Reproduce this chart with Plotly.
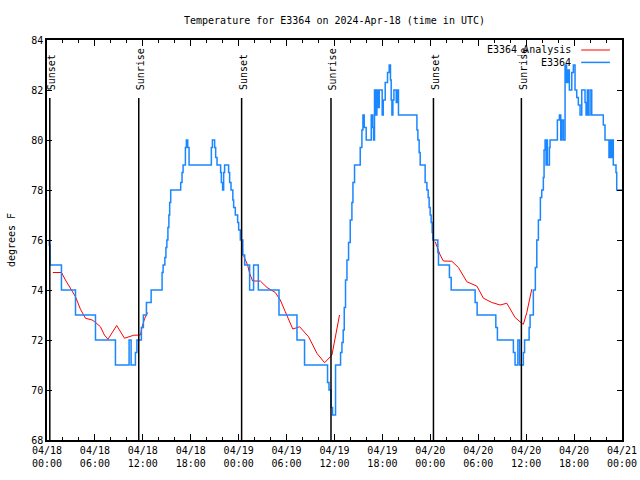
import pandas as pd
import plotly.graph_objects as go

START = "2024-04-18 00:00"

# Observed station temperatures (hours since START, degrees F)
blue_hours = [0.23, 0.29, 0.38, 1.81, 3.57, 6.07, 8.57, 10.28, 10.53, 11.07, 11.26, 11.82, 12.07, 12.45,
              13.04, 14.41, 14.54, 14.76, 14.89, 15.01, 15.14, 15.26, 15.36, 15.49, 16.74, 16.91, 17.04,
              17.33, 17.45, 17.62, 17.79, 20.58, 20.71, 20.99, 21.12, 21.29, 21.74, 21.83, 21.99, 22.12,
              22.24, 22.74, 22.87, 23.04, 23.27, 23.37, 23.58, 23.87, 24.00, 24.21, 24.52, 24.75, 25.37,
              25.87, 26.46, 29.05, 31.30, 32.25, 35.13, 35.31, 35.56, 35.76, 36.13, 36.76, 36.93, 37.09,
              37.22, 37.38, 37.56, 37.76, 37.97, 38.18, 38.31, 38.51, 39.22, 39.43, 39.56, 39.72, 39.97,
              40.60, 40.79, 40.89, 41.01, 41.14, 41.31, 41.47, 41.60, 41.97, 42.10, 42.35, 42.64, 42.85,
              43.01, 43.10, 43.19, 43.31, 43.44, 43.73, 43.89, 44.01, 46.32, 46.44, 46.60, 46.73, 47.35,
              47.57, 47.73, 47.85, 47.98, 48.10, 48.23, 48.32, 48.94, 49.02, 50.39, 50.61, 53.61, 53.86,
              56.20, 56.40, 58.40, 58.61, 58.96, 59.18, 59.65, 59.80, 60.37, 60.49, 60.90, 61.15, 61.33,
              61.53, 61.78, 61.95, 62.15, 62.24, 62.37, 62.49, 62.58, 62.66, 62.91, 62.99, 63.91, 64.16,
              64.33, 64.46, 64.66, 64.87, 65.06, 65.25, 65.41, 65.71, 65.91, 66.12, 66.33, 66.53, 66.75,
              66.96, 67.37, 67.50, 67.66, 67.78, 68.00, 68.21, 69.66, 69.87, 70.37, 70.50, 70.62, 70.75,
              70.91, 71.25, 71.34, 72.0]
blue_temps = [76, 75.8, 75, 74, 73, 72, 71, 72, 71, 71.5, 72, 72.5, 73, 73.5,
              74, 74.7, 75, 75.3, 75.7, 76, 76.5, 77, 77.5, 78, 78.3, 78.7, 79,
              79.7, 80, 79.7, 79, 79.7, 80, 79.7, 79.3, 79, 78.7, 78.3, 78, 78.7,
              79, 78.7, 78.3, 78, 77.6, 77.3, 77, 76.7, 76.4, 76, 75.4, 75, 74,
              75, 74, 73, 72, 71, 70.3, 70, 69.3, 69, 71, 71.5, 71.9, 72.4,
              73.3, 74.4, 75.2, 75.9, 76.8, 77.5, 78.3, 79, 79.7, 80.4, 81, 80.5, 80,
              81, 80.5, 80, 82, 81, 82, 81.3, 82, 81, 81.6, 82.3, 82.7, 83,
              82.4, 81.6, 81, 81.6, 82, 81.5, 82, 81, 80.4, 80, 79.5, 79, 78.3,
              78, 77.7, 77.3, 77, 76.7, 76.3, 76, 75.5, 75, 74.5, 74, 73.5, 73,
              72.5, 72, 71.5, 71, 72, 71, 71.5, 72, 72.5, 73, 74, 74.9, 76,
              76.8, 77.7, 78, 78.5, 79.6, 80, 79, 80, 79, 79.7, 80, 80.8, 81,
              80, 80.8, 80, 83, 82.3, 82.8, 82, 82.7, 83, 82, 81.7, 81.4, 81,
              82, 81.5, 81, 82, 81, 82, 81, 80.6, 80, 79.3, 80, 79.3, 80,
              79, 78.7, 78, 78]

# Analysis series (three nightly segments)
red1_hours = [0.73, 1.81, 2.31, 2.94, 3.57, 4.19, 4.82, 5.65, 5.98, 6.69, 7.19, 7.63, 8.73, 9.70,
              10.45, 10.86, 11.70, 11.91, 12.24, 12.61]
red1_temps = [74.7, 74.7, 74.4, 74.07, 73.73, 73.23, 72.87, 72.8, 72.73, 72.53, 72.2, 72.03, 72.58, 72.07,
              72.16, 72.19, 72.2, 72.53, 72.87, 73.1]
red2_hours = [24.62, 25.12, 25.37, 25.75, 26.71, 27.55, 28.59, 29.21, 29.84, 30.78, 31.63, 32.75, 33.80,
              34.76, 35.68, 35.97, 36.22, 36.63]
red2_temps = [75.37, 75.0, 74.67, 74.36, 74.36, 74.1, 73.9, 73.6, 73.13, 72.44, 72.53, 72.13, 71.47,
              71.09, 71.4, 71.87, 72.4, 73.0]
red3_hours = [48.61, 49.23, 49.64, 50.69, 51.52, 52.57, 53.82, 54.65, 55.70, 56.74, 57.58, 58.61, 59.45,
              59.65, 60.08, 60.70]
red3_temps = [75.93, 75.4, 75.16, 75.15, 74.9, 74.33, 74.16, 73.67, 73.5, 73.4, 73.47, 72.9, 72.67,
              72.63, 73.1, 74.03]

event_hours = [0.35, 11.49, 24.37, 35.56, 48.39, 59.40]
event_labels = ["Sunset", "Sunrise", "Sunset", "Sunrise", "Sunset", "Sunrise"]
event_line_top = 81.68
event_label_base = 81.92

y_range = [68, 84]
x_range_hours = [0, 72]

FONT = "DejaVu Sans Mono"
RED = "#ff0000"
BLUE = "#1a86ff"

t0 = pd.Timestamp(START)


def to_time(hours):
    return [t0 + pd.Timedelta(hours=h) for h in hours]


fig = go.Figure()
for hrs, tmp in [(red1_hours, red1_temps), (red2_hours, red2_temps), (red3_hours, red3_temps)]:
    fig.add_trace(go.Scatter(x=to_time(hrs), y=tmp, mode="lines",
                             line=dict(color=RED, width=1), showlegend=False, hoverinfo="skip"))
fig.add_trace(go.Scatter(x=to_time(blue_hours), y=blue_temps, mode="lines",
                         line=dict(color=BLUE, width=1.5, shape="hv"), showlegend=False, hoverinfo="skip"))

shapes = []
annotations = []
for h, lab in zip(event_hours, event_labels):
    t = t0 + pd.Timedelta(hours=h)
    shapes.append(dict(type="line", xref="x", yref="y", x0=t, x1=t, y0=y_range[0], y1=event_line_top,
                       line=dict(color="black", width=1.5)))
    annotations.append(dict(x=t, y=event_label_base, xref="x", yref="y", text=lab, textangle=-90,
                            showarrow=False, xanchor="center", yanchor="bottom", xshift=1.5,
                            font=dict(family=FONT, size=10, color="black")))

# legend drawn gnuplot-style (text left, sample right)
legend_items = [("E3364_Analysis", RED, 0.975), ("E3364", BLUE, 0.944)]
for name, col, yp in legend_items:
    annotations.append(dict(x=0.915, y=yp, xref="paper", yref="paper", text=name, showarrow=False,
                            xanchor="right", yanchor="middle", font=dict(family=FONT, size=10, color="black")))
    shapes.append(dict(type="line", xref="paper", yref="paper", x0=0.929, x1=0.979, y0=yp, y1=yp,
                       line=dict(color=col, width=1.5 if col == BLUE else 1)))

fig.update_layout(
    width=640, height=480,
    margin=dict(l=47, r=18, t=40, b=40, autoexpand=False),
    paper_bgcolor="white", plot_bgcolor="white",
    title=dict(text="Temperature for E3364 on 2024-Apr-18 (time in UTC)", x=0.5, xref="paper",
               y=1 - 20 / 480, yanchor="middle", font=dict(family=FONT, size=10, color="black")),
    font=dict(family=FONT, size=10, color="black"),
    shapes=shapes, annotations=annotations,
    showlegend=False,
)
fig.update_xaxes(
    type="date", range=to_time(x_range_hours),
    tick0=t0, dtick=6 * 3600 * 1000, tickformat="%m/%d<br>%H:%M",
    ticks="inside", ticklen=6, tickwidth=1, tickcolor="black",
    minor=dict(dtick=2 * 3600 * 1000, ticks="inside", ticklen=3, tickcolor="black"),
    showline=True, linecolor="black", linewidth=1.5, mirror="ticks",
    showgrid=False, zeroline=False, tickfont=dict(family=FONT, size=10, color="black"),
)
fig.update_yaxes(
    range=y_range, dtick=2, ticks="inside", ticklen=5, tickwidth=1, tickcolor="black",
    showline=True, linecolor="black", linewidth=1.5, mirror="ticks",
    showgrid=False, zeroline=False, tickfont=dict(family=FONT, size=10, color="black"),
    title=dict(text="degrees F", font=dict(family=FONT, size=10, color="black"), standoff=14),
)

fig.write_html("out.html", config={"displayModeBar": False},
               post_script="document.body.style.margin='0';document.body.style.overflow='hidden';")
